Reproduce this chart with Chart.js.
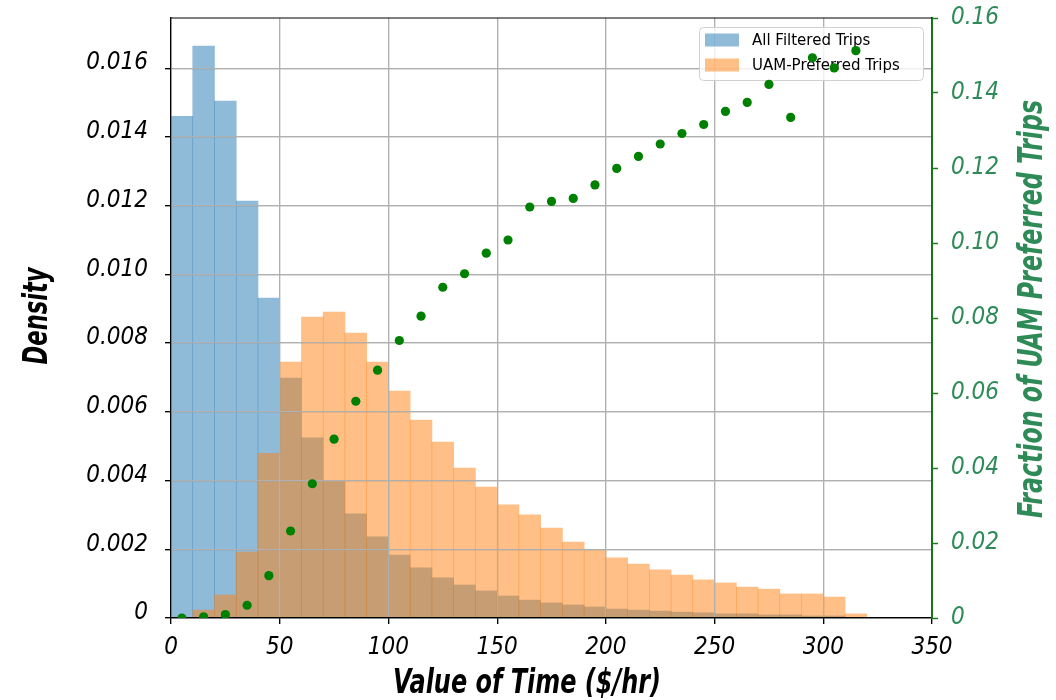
<!DOCTYPE html>
<html>
<head>
<meta charset="utf-8">
<script src="https://cdn.jsdelivr.net/npm/chart.js@4.4.1/dist/chart.umd.min.js"></script>
<style>
  html, body { margin: 0; padding: 0; background: #fff; }
  #wrap { width: 1056px; height: 700px; }
</style>
</head>
<body>
<div id="wrap"><canvas id="c" width="1056" height="700"></canvas></div>
<script>
// bin centres ($/hr), 10-wide bins
const binCenters = [5, 15, 25, 35, 45, 55, 65, 75, 85, 95, 105, 115, 125, 135, 145, 155,
  165, 175, 185, 195, 205, 215, 225, 235, 245, 255, 265, 275, 285, 295, 305, 315];

const allTrips = [0.0146, 0.01664, 0.01504, 0.01213, 0.00931, 0.00698, 0.00524, 0.00397,
  0.00303, 0.00236, 0.00183, 0.00146, 0.00117, 0.00096, 0.00079, 0.00064, 0.00052, 0.00044,
  0.00038, 0.00032, 0.00026, 0.00023, 0.0002, 0.00017, 0.00015, 0.00012, 0.00012, 0.00009,
  0.00009, 0.00006, 0.00006, 0];

const uamTrips = [0, 0.00023, 0.00067, 0.00192, 0.00479, 0.00745, 0.00876, 0.0089, 0.00829,
  0.00745, 0.0066, 0.00576, 0.00512, 0.00436, 0.00381, 0.00329, 0.003, 0.00262, 0.00221,
  0.00198, 0.00175, 0.00157, 0.0014, 0.00125, 0.00111, 0.00102, 0.0009, 0.00084, 0.0007,
  0.0007, 0.00061, 0.00012];

const uamFraction = [0, 0.0003, 0.0009, 0.0034, 0.0113, 0.0232, 0.0358, 0.0477, 0.0578,
  0.0661, 0.074, 0.0805, 0.0882, 0.0918, 0.0973, 0.1008, 0.1096, 0.1111, 0.1119, 0.1155,
  0.1199, 0.1231, 0.1264, 0.1292, 0.1316, 0.1351, 0.1375, 0.1423, 0.1335, 0.1494, 0.1467, 0.1513];

const xTicks = [0, 50, 100, 150, 200, 250, 300, 350];
const densityTicks = [0, 0.002, 0.004, 0.006, 0.008, 0.010, 0.012, 0.014, 0.016];
const fractionTicks = [0, 0.02, 0.04, 0.06, 0.08, 0.10, 0.12, 0.14, 0.16];
const seriesNames = ['All Filtered Trips', 'UAM-Preferred Trips'];

const narrow = '"DejaVu Sans Condensed", "Liberation Sans Narrow", sans-serif';
const sea = '#2e8b57';

const toPoints = vals => binCenters.map((x, i) => ({ x: x, y: vals[i] }));
const fixTicks = list => scale => { scale.ticks = list.map(v => ({ value: v })); };

// squeeze a bold title into the width the condensed original font takes
function squeezedTitle(ctx, text, cx, cy, width, angle, color) {
  ctx.save();
  ctx.font = 'italic bold 33px ' + narrow;
  ctx.textAlign = 'center';
  ctx.textBaseline = 'middle';
  ctx.fillStyle = color;
  ctx.translate(cx, cy);
  ctx.rotate(angle);
  ctx.scale(width / ctx.measureText(text).width, 1);
  ctx.fillText(text, 0, 0);
  ctx.restore();
}

// matplotlib puts the grid above the bars and the twin-axis dots above the legend
const layers = {
  id: 'layers',
  beforeDatasetDraw(chart, args) {
    if (args.index !== 2) return;
    const ctx = chart.ctx;
    const a = chart.chartArea;
    chart.scales.x.drawGrid(a);
    chart.scales.y.drawGrid(a);
    chart.scales.x.drawBorder();
    chart.scales.y.drawBorder();
    chart.scales.y1.drawBorder();

    // legend box
    ctx.save();
    ctx.beginPath();
    ctx.roundRect(699.5, 27.5, 224, 53, 4);
    ctx.fillStyle = 'rgba(255,255,255,0.8)';
    ctx.fill();
    ctx.strokeStyle = '#d0d0d0';
    ctx.lineWidth = 1;
    ctx.stroke();
    ctx.font = '15px "DejaVu Sans", sans-serif';
    ctx.textBaseline = 'middle';
    seriesNames.forEach((name, i) => {
      const y = 40 + i * 25;
      ctx.fillStyle = chart.data.datasets[i].backgroundColor;
      ctx.fillRect(705, y - 6.5, 34, 13);
      ctx.fillStyle = '#000';
      ctx.fillText(name, 752, y + 1);
    });
    ctx.restore();
  },
  afterDraw(chart) {
    const ctx = chart.ctx;
    const a = chart.chartArea;
    ctx.save();
    ctx.strokeStyle = '#000';
    ctx.lineWidth = 1.2;
    ctx.beginPath();
    ctx.moveTo(a.left, a.top);
    ctx.lineTo(a.right, a.top);
    ctx.stroke();
    ctx.restore();

    squeezedTitle(ctx, 'Density', 38, 316, 97, -Math.PI / 2, '#000');
    squeezedTitle(ctx, 'Value of Time ($/hr)', 527, 684, 268, 0, '#000');
    squeezedTitle(ctx, 'Fraction of UAM Preferred Trips', 1033, 309, 418, -Math.PI / 2, sea);
  }
};

const noPad = s => { s.paddingTop = 0; s.paddingBottom = 0; s.paddingLeft = 0; s.paddingRight = 0; };

new Chart(document.getElementById('c'), {
  type: 'bar',
  data: {
    datasets: [
      {
        label: seriesNames[0],
        data: toPoints(allTrips),
        backgroundColor: 'rgba(31,119,180,0.5)',
        order: 2
      },
      {
        label: seriesNames[1],
        data: toPoints(uamTrips),
        backgroundColor: 'rgba(255,127,14,0.5)',
        order: 1
      },
      {
        type: 'scatter',
        label: 'fraction',
        data: toPoints(uamFraction),
        xAxisID: 'x',
        yAxisID: 'y1',
        backgroundColor: '#008000',
        borderWidth: 0,
        pointRadius: 4.6,
        order: 0
      }
    ]
  },
  options: {
    responsive: false,
    animation: false,
    layout: { padding: { top: 18 } },
    datasets: {
      bar: { barPercentage: 1, categoryPercentage: 1, grouped: false, borderWidth: 0 }
    },
    plugins: {
      legend: { display: false },
      tooltip: { enabled: false }
    },
    scales: {
      x: {
        type: 'linear',
        min: 0,
        max: 350,
        offset: false,
        afterBuildTicks: fixTicks(xTicks),
        afterFit: s => { s.height = 82; noPad(s); },
        grid: { color: '#b0b0b0', lineWidth: 1.2, tickColor: '#000', tickLength: 6, tickWidth: 1.2, offset: false },
        border: { color: '#000', width: 1.2 },
        ticks: {
          color: '#000',
          padding: 9,
          maxRotation: 0,
          font: { family: narrow, size: 24, style: 'italic' },
          callback: v => String(v)
        }
      },
      y: {
        position: 'left',
        min: 0,
        max: 0.01746,
        afterBuildTicks: fixTicks(densityTicks),
        afterFit: s => { s.width = 171; noPad(s); },
        grid: { color: '#b0b0b0', lineWidth: 1.2, tickColor: '#000', tickLength: 6, tickWidth: 1.2 },
        border: { color: '#000', width: 1.2 },
        ticks: {
          color: '#000',
          padding: 17,
          labelOffset: -5,
          font: { family: narrow, size: 24, style: 'italic' },
          callback: v => (v === 0 ? '0' : v.toFixed(3))
        }
      },
      y1: {
        position: 'right',
        min: 0,
        max: 0.16,
        afterBuildTicks: fixTicks(fractionTicks),
        afterFit: s => { s.width = 124; noPad(s); },
        grid: { drawOnChartArea: false, tickColor: '#1a7f1a', tickLength: 6, tickWidth: 1.5 },
        border: { color: '#137813', width: 2 },
        ticks: {
          color: sea,
          padding: 13,
          font: { family: narrow, size: 24, style: 'italic' },
          callback: v => (v === 0 ? '0' : v.toFixed(2))
        }
      }
    }
  },
  plugins: [layers]
});
</script>
</body>
</html>
